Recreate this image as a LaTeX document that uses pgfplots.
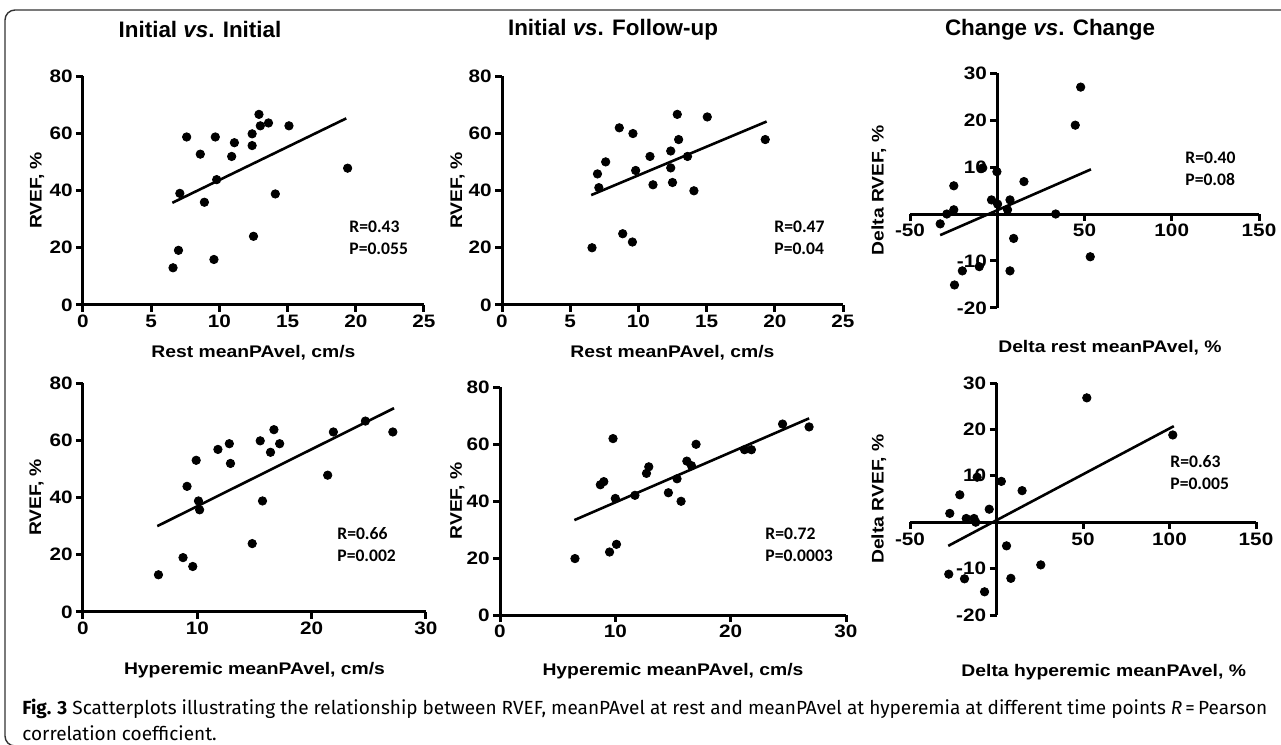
\documentclass[border=0pt]{standalone}
\usepackage{fontspec}
\setmainfont{Liberation Sans}
\newfontfamily\gp[FakeStretch=1.15]{Liberation Sans}
\newfontfamily\calib{Carlito}
\newfontfamily\capfont{Fira Sans}
\usepackage{pgfplots}
\pgfplotsset{compat=1.18}

\newcommand\lblfont{\gp\bfseries\fontsize{8.4}{10}\selectfont}
\pgfplotsset{
  gp/.style={
    scale only axis, anchor=south west, clip=false,
    axis line style={-, line width=1.5pt},
    every inner x axis line/.append style={-},
    every inner y axis line/.append style={-},
    every outer x axis line/.append style={-},
    every outer y axis line/.append style={-},
    every tick/.style={line width=1.5pt, black},
    major tick length=3.5pt,
    tick align=outside,
    /pgf/number format/assume math mode=true,
    ticklabel style={font=\gp\bfseries\fontsize{9}{10}\selectfont, inner sep=1.5pt},
  },
  xl/.style 2 args={every axis x label/.style={at={(axis description cs:#1,#2)}, anchor=center, font=\lblfont}},
  yl/.style={every axis y label/.style={at={(axis description cs:#1,0.5)}, rotate=90, anchor=center, font=\lblfont}},
  dots/.style={only marks, mark=*, mark size=2.1pt, black},
  fit/.style={no marks, black, line width=1.3pt},
}

\begin{document}
\begin{tikzpicture}
\useasboundingbox (0,0) rectangle (640.5pt,372.5pt);
\draw[black!80, line width=0.7pt, rounded corners=5pt] (660pt,367.5pt) -- (2.5pt,367.5pt) -- (2.5pt,-0.5pt) -- (30pt,-0.5pt);

% titles
\node[font=\bfseries\fontsize{11.2}{13}\selectfont] at (100pt,357.5pt) {Initial \textit{vs}. Initial};
\node[font=\bfseries\fontsize{11.2}{13}\selectfont] at (306.5pt,357.5pt) {Initial \textit{vs}. Follow-up};
\node[font=\bfseries\fontsize{11.2}{13}\selectfont] at (525pt,357.5pt) {Change \textit{vs}. Change};

% top left
\begin{axis}[axis lines=left, gp, at={(41.5pt,220pt)}, width=170.5pt, height=114.5pt,
  xmin=0, xmax=25, ymin=0, ymax=80, xtick={0,5,...,25}, ytick={0,20,...,80},
  xlabel={Rest meanPAvel, cm/s}, ylabel={RVEF, \%},
  xl={0.5}{-0.21}, yl=-0.135]
\addplot[dots] coordinates {(6.6,13.0) (7.0,19.1) (7.1,39) (7.6,58.7) (8.6,52.7) (8.9,35.9) (9.6,15.9) (9.7,58.7) (9.8,43.8) (10.9,51.9) (11.1,56.7) (12.4,59.8) (12.4,55.7) (12.5,24) (12.9,66.6) (13.0,62.6) (13.6,63.6) (14.1,38.8) (15.1,62.6) (19.4,47.8)};
\addplot[fit] coordinates {(6.55,35.7) (19.3,65.2)};
\end{axis}

% top middle
\begin{axis}[axis lines=left, gp, at={(251pt,220pt)}, width=170.5pt, height=114.5pt,
  xmin=0, xmax=25, ymin=0, ymax=80, xtick={0,5,...,25}, ytick={0,20,...,80},
  xlabel={Rest meanPAvel, cm/s}, ylabel={RVEF, \%},
  xl={0.5}{-0.21}, yl=-0.13]
\addplot[dots] coordinates {(6.6,20) (7.0,45.8) (7.1,41) (7.6,50) (8.6,61.9) (8.85,24.9) (9.56,22) (9.6,59.9) (9.8,47) (10.85,51.9) (11.07,42) (12.37,53.8) (12.37,47.9) (12.5,42.8) (12.85,66.6) (12.95,57.8) (13.6,51.9) (14.07,39.9) (15.05,65.7) (19.3,57.8)};
\addplot[fit] coordinates {(6.54,38.4) (19.4,64.1)};
\end{axis}

% top right
\begin{axis}[axis lines=middle, gp, at={(455pt,218.5pt)}, width=174.5pt, height=117.5pt,
  xmin=-50, xmax=150, ymin=-20, ymax=30,
  xtick={-50,50,100,150}, xticklabels={-50,50,100,150},
  ytick={-20,-10,10,20,30}, yticklabels={-20,-10,10,20,30},
  xlabel={Delta rest meanPAvel, \%}, ylabel={Delta RVEF, \%},
  xl={0.573}{-0.17}, yl=-0.089]
\addplot[dots] coordinates {(-32.7,-2.1) (-28.9,0) (-24.9,0.9) (-24.9,6) (-24.5,-15.1) (-20,-12.1) (-10.3,-11.2) (-8.3,9.8) (-3.3,3) (-0.2,9) (0.2,2.1) (5.9,0.9) (7.3,3) (7.3,-12.1) (9.4,-5.2) (15.3,6.9) (33.5,0) (44.7,18.9) (47.8,27) (53.3,-9.1)};
\addplot[fit] coordinates {(-32.7,-4.5) (53.7,9.5)};
\end{axis}

% bottom left
\begin{axis}[axis lines=left, gp, at={(41.5pt,66.5pt)}, width=171.5pt, height=114.5pt,
  xmin=0, xmax=30, ymin=0, ymax=80, xtick={0,10,...,30}, ytick={0,20,...,80},
  xlabel={Hyperemic meanPAvel, cm/s}, ylabel={RVEF, \%},
  xl={0.5}{-0.255}, yl=-0.135]
\addplot[dots] coordinates {(6.6,13) (8.75,19) (9.1,43.9) (9.6,15.9) (9.9,53) (10.1,38.8) (10.2,35.7) (11.8,56.8) (12.8,58.8) (12.9,51.9) (14.8,23.9) (15.5,59.8) (15.7,38.8) (16.4,55.8) (16.7,63.7) (17.2,58.8) (21.4,47.8) (21.9,62.9) (24.7,66.7) (27.1,62.9)};
\addplot[fit] coordinates {(6.5,30) (27.2,71.2)};
\end{axis}

% bottom middle
\begin{axis}[axis lines=left, gp, at={(250pt,65pt)}, width=173pt, height=114pt,
  xmin=0, xmax=30, ymin=0, ymax=80, xtick={0,10,...,30}, ytick={0,20,...,80},
  xlabel={Hyperemic meanPAvel, cm/s}, ylabel={RVEF, \%},
  xl={0.5}{-0.245}, yl=-0.123]
\addplot[dots] coordinates {(6.5,19.8) (8.7,45.7) (9.0,46.8) (9.5,22.1) (9.8,61.9) (10.0,40.9) (10.1,24.8) (11.7,42) (12.7,49.7) (12.9,52) (14.6,42.9) (15.35,47.8) (15.7,39.9) (16.2,54) (16.6,52.4) (17.0,59.9) (21.2,58) (21.8,58) (24.5,67) (26.8,66)};
\addplot[fit] coordinates {(6.45,33.3) (26.8,69)};
\end{axis}

% bottom right
\begin{axis}[axis lines=middle, gp, at={(455pt,65pt)}, width=173pt, height=116pt,
  xmin=-50, xmax=150, ymin=-20, ymax=30,
  xtick={-50,50,100,150}, xticklabels={-50,50,100,150},
  ytick={-20,-10,10,20,30}, yticklabels={-20,-10,10,20,30},
  xlabel={Delta hyperemic meanPAvel, \%}, ylabel={Delta RVEF, \%},
  xl={0.56}{-0.245}, yl=-0.09]
\addplot[dots] coordinates {(-27,1.9) (-27.6,-11.2) (-21.2,5.9) (-18.5,-12.2) (-17.5,0.8) (-13,0.8) (-12,0) (-11.2,9.7) (-6.9,-15) (-4.2,2.8) (2.8,8.8) (5.8,-5.1) (8.3,-12.1) (14.8,6.8) (25.6,-9.2) (52.2,26.8) (101.9,18.8)};
\addplot[fit] coordinates {(-27.9,-5.1) (102.5,20.7)};
\end{axis}

% statistics
\begin{scope}[every node/.style={anchor=west, font=\calib\bfseries\fontsize{8.8}{10}\selectfont, inner sep=0pt, align=left}]
\node at (174.5pt,253.5pt) {R=0.43\\[1pt]P=0.055};
\node at (387pt,253.5pt) {R=0.47\\[1pt]P=0.04};
\node at (592.5pt,288pt) {R=0.40\\[1pt]P=0.08};
\node at (168.5pt,100pt) {R=0.66\\[1pt]P=0.002};
\node at (382.5pt,100pt) {R=0.72\\[1pt]P=0.0003};
\node at (585pt,136pt) {R=0.63\\[1pt]P=0.005};
\end{scope}

% caption
\node[anchor=west, inner sep=0pt, font=\capfont\fontsize{9.5}{11}\selectfont] at (11pt,18pt) {\textbf{Fig. 3} Scatterplots illustrating the relationship between RVEF, meanPAvel at rest and meanPAvel at hyperemia at different time points \textit{R}\,=\,Pearson};
\node[anchor=west, inner sep=0pt, font=\capfont\fontsize{9.5}{11}\selectfont] at (11pt,6pt) {correlation coefficient.};
\end{tikzpicture}
\end{document}
